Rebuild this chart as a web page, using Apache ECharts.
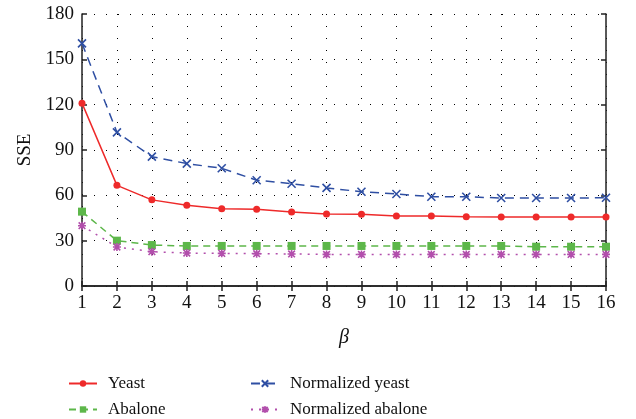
<!DOCTYPE html>
<html>
<head>
<meta charset="utf-8">
<script src="https://cdn.jsdelivr.net/npm/echarts@6/dist/echarts.min.js"></script>
<style>
  html, body { margin: 0; padding: 0; background: #fff; }
  #chart { width: 636px; height: 419px; }
</style>
</head>
<body>
<div id="chart"></div>
<script>
// 数据
var betas = [1, 2, 3, 4, 5, 6, 7, 8, 9, 10, 11, 12, 13, 14, 15, 16];
var yeast = [121, 66.6, 57, 53.5, 51.2, 50.8, 49, 47.7, 47.4, 46.3, 46.3, 45.9, 45.7, 45.7, 45.7, 45.7];
var abalone = [49.2, 30, 27.1, 26.5, 26.5, 26.5, 26.5, 26.5, 26.5, 26.5, 26.5, 26.5, 26.5, 26, 26, 26];
var normYeast = [160.6, 101.7, 85.6, 81, 77.9, 70, 67.7, 64.9, 62.4, 60.9, 59.1, 59.1, 58.2, 58.2, 58.2, 58.4];
var normAbalone = [39.9, 25.8, 22.7, 21.8, 21.6, 21.4, 21.2, 20.9, 20.9, 20.9, 20.9, 20.9, 20.9, 20.9, 20.9, 20.9];
var seriesNames = ["Yeast", "Abalone", "Normalized yeast", "Normalized abalone"];

function pairs(arr) {
  return betas.map(function (b, i) { return [b, arr[i]]; });
}

var serif = "Liberation Serif";
var myChart = echarts.init(document.getElementById("chart"));

var crossPath = "path://M0,0L10,10M10,0L0,10";
var starPath = "path://M0,0L10,10M10,0L0,10M5,-1L5,11M-1,5L11,5";

var axisBase = {
  axisLine: { show: true, lineStyle: { color: "#222", width: 1.5 } },
  axisTick: { show: true, inside: true, length: 5, lineStyle: { color: "#222", width: 1.5 } }
};

// 图例位置：两列两行
var legendPos = [[68, 375], [68, 401], [250, 375], [250, 401]];
var legends = seriesNames.map(function (name, i) {
  return {
    left: legendPos[i][0], top: legendPos[i][1], padding: 0,
    itemWidth: 28, itemHeight: 8,
    textStyle: { fontFamily: serif, fontSize: 17, color: "#111", padding: [0, 0, 0, 6] },
    data: [name]
  };
});

var option = {
  animation: false,
  grid: { left: 82, right: 30, top: 14, bottom: 133 },
  legend: legends,
  xAxis: [
    Object.assign({
      type: "value", min: 1, max: 16, interval: 1,
      name: "β", nameLocation: "middle", nameGap: 42,
      nameTextStyle: { fontFamily: serif, fontSize: 20, fontStyle: "italic", color: "#111" },
      axisLabel: { fontFamily: serif, fontSize: 19, color: "#111", margin: 8 },
      splitLine: { show: true, lineStyle: { color: "#000", type: [1, 11], width: 1 } }
    }, axisBase),
    Object.assign({
      type: "value", min: 1, max: 16, interval: 1, position: "top",
      axisLabel: { show: false }, splitLine: { show: false }
    }, axisBase)
  ],
  yAxis: [
    Object.assign({
      type: "value", min: 0, max: 180, interval: 30,
      name: "SSE", nameLocation: "middle", nameGap: 46,
      nameTextStyle: { fontFamily: serif, fontSize: 19, color: "#111" },
      axisLabel: { fontFamily: serif, fontSize: 19, color: "#111", margin: 8 },
      splitLine: { show: true, lineStyle: { color: "#000", type: [1, 11], width: 1 } }
    }, axisBase),
    Object.assign({
      type: "value", min: 0, max: 180, interval: 30, position: "right",
      axisLabel: { show: false }, splitLine: { show: false }
    }, axisBase)
  ],
  series: [
    {
      name: "Yeast", type: "line", data: pairs(yeast),
      symbol: "circle", symbolSize: 7,
      lineStyle: { color: "#ee2a2a", width: 1.5 },
      itemStyle: { color: "#ee2a2a" }
    },
    {
      name: "Abalone", type: "line", data: pairs(abalone),
      symbol: "rect", symbolSize: 8,
      lineStyle: { color: "#5db74a", width: 1.5, type: [7, 5] },
      itemStyle: { color: "#5db74a" }
    },
    {
      name: "Normalized yeast", type: "line", data: pairs(normYeast),
      symbol: crossPath, symbolSize: 8,
      lineStyle: { color: "#2f4fa3", width: 1.5, type: [9, 6] },
      itemStyle: { color: "#2f4fa3", borderColor: "#2f4fa3", borderWidth: 1.6 }
    },
    {
      name: "Normalized abalone", type: "line", data: pairs(normAbalone),
      symbol: starPath, symbolSize: 8,
      lineStyle: { color: "#b24fac", width: 1.5, type: [2, 6] },
      itemStyle: { color: "#b24fac", borderColor: "#b24fac", borderWidth: 1.6 }
    }
  ]
};

myChart.setOption(option);
</script>
</body>
</html>
